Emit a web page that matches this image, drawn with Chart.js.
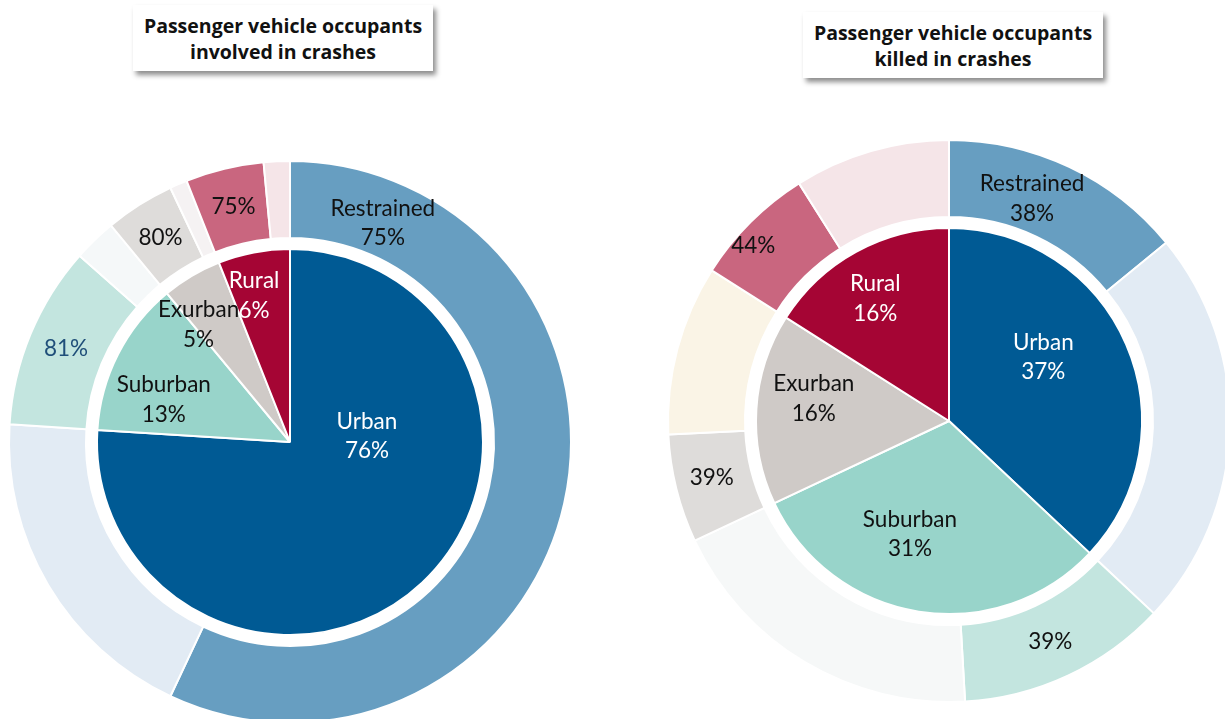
<!DOCTYPE html>
<html>
<head>
<meta charset="utf-8">
<script src="https://cdn.jsdelivr.net/npm/chart.js@4.4.1/dist/chart.umd.min.js"></script>
<style>
  html,body{margin:0;padding:0;background:#fff;overflow:hidden;width:1225px;height:719px;}
  body{position:relative;font-family:Lato,"Open Sans",sans-serif;}
  canvas{position:absolute;}
  .titulo{position:absolute;width:300px;height:66px;background:#fff;box-shadow:3px 4px 5px rgba(0,0,0,0.45);
          font-family:"Open Sans",sans-serif;font-weight:bold;font-size:19.5px;line-height:26px;text-align:center;color:#111;box-sizing:border-box;padding-top:8px;}
</style>
</head>
<body>
<div class="titulo" style="left:133px;top:5px;">Passenger vehicle occupants<br>involved in crashes</div>
<div class="titulo" style="left:803px;top:12px;">Passenger vehicle occupants<br>killed in crashes</div>
<canvas id="myChart" width="600" height="600" style="left:-10px;top:142px;"></canvas>
<canvas id="myChart2" width="600" height="600" style="left:649px;top:121px;"></canvas>
<script>
// datos
const categorias        = ['Urban','Suburban','Exurban','Rural']
const involvedShare     = [76,13,5,6]      // % de ocupantes en choques
const involvedRestrained= [75,81,80,75]    // % con cinturon dentro de cada zona
const killedShare       = [37,31,16,16]    // % de ocupantes fallecidos
const killedRestrained  = [38,39,39,44]

// colores
const colorInner      = ['#005A94','#98D4CA','#CFCAC7','#A50534']
const colorRestrained = ['#679EC1','#C3E5DF','#DEDCDA','#C9667F']
const colorUnrest1    = ['#E2EBF4','#F5F8F9','#F5F2F3','#F5E5E8']
const colorUnrest2    = ['#E2EBF4','#F6F8F8','#FAF4E6','#F5E5E8']
const textInner       = ['#fff','#111','#111','#fff']

// posicion de etiquetas: t = fraccion a lo largo del arco, r = fraccion del grosor
const posInner1 = [{t:0.313,r:0.40},{t:0.32,r:0.69},{t:0.09,r:0.77},{t:0.36,r:0.78}]
const posOuter1 = [{t:0.112,r:0.44},{t:0.5,r:0.5},{t:0.5,r:0.49},{t:0.5,r:0.49}]
const posInner2 = [{t:0.42,r:0.59},{t:0.59,r:0.62},{t:0.60,r:0.71},{t:0.46,r:0.74}]
const posOuter2 = [{t:0.405,r:0.43},{t:0.51,r:0.51},{t:0.52,r:0.52},{t:0.37,r:0.76}]
const colorOuterText1 = ['#111','#1F4E79','#111','#111']

function anillo(share,rest){//restrained / unrestrained por zona
    let valores=[]
    share.forEach((s,i)=>{
        valores.push(s*rest[i]/100)
        valores.push(s*(100-rest[i])/100)
    })
    return valores
}
function intercalar(a,b){
    let c=[]
    a.forEach((x,i)=>{c.push(x);c.push(b[i])})
    return c
}

// plugin para dibujar las etiquetas dentro de cada arco
const etiquetas = {
    id:'etiquetas',
    afterDatasetsDraw(chart){
        const ctx=chart.ctx
        chart.data.datasets.forEach((ds,d)=>{
            if(!ds.etiquetas) return
            const meta=chart.getDatasetMeta(d)
            ds.etiquetas.forEach(et=>{
                const arc=meta.data[et.index]
                const p=arc.getProps(['x','y','startAngle','endAngle','innerRadius','outerRadius'],true)
                const ang=p.startAngle+et.t*(p.endAngle-p.startAngle)
                const rad=p.innerRadius+et.r*(p.outerRadius-p.innerRadius)
                const x=p.x+Math.cos(ang)*rad
                const y=p.y+Math.sin(ang)*rad
                ctx.save()
                ctx.font='22.5px Lato'
                ctx.fillStyle=et.color
                ctx.textAlign='center'
                ctx.textBaseline='middle'
                const n=et.lineas.length
                et.lineas.forEach((l,k)=>ctx.fillText(l,x,y+(k-(n-1)/2)*29.5))
                ctx.restore()
            })
        })
    }
}

function crearGrafico(canvas,share,rest,colUnrest,posIn,posOut,colOutText){
    const etiqIn=categorias.map((c,i)=>({index:i,lineas:[c,share[i]+'%'],color:textInner[i],t:posIn[i].t,r:posIn[i].r}))
    const etiqOut=categorias.map((c,i)=>({index:i*2,lineas:i==0?['Restrained',rest[i]+'%']:[rest[i]+'%'],color:colOutText[i],t:posOut[i].t,r:posOut[i].r}))
    return new Chart(canvas,{
        type:'pie',
        data:{
            labels:intercalar(categorias,categorias),
            datasets:[
                {data:anillo(share,rest),backgroundColor:intercalar(colorRestrained,colUnrest),borderColor:'#fff',borderWidth:2,weight:77,etiquetas:etiqOut},
                {data:[1],backgroundColor:'rgba(0,0,0,0)',borderWidth:0,weight:11},
                {data:share,backgroundColor:colorInner,borderColor:'#fff',borderWidth:2,weight:193,etiquetas:etiqIn}
            ]
        },
        options:{
            responsive:false,
            animation:false,
            events:[],
            radius:281,
            layout:{padding:0},
            plugins:{legend:{display:false},tooltip:{enabled:false}}
        },
        plugins:[etiquetas]
    })
}

const myChart  = crearGrafico(document.getElementById('myChart'),involvedShare,involvedRestrained,colorUnrest1,posInner1,posOuter1,colorOuterText1)
const myChart2 = crearGrafico(document.getElementById('myChart2'),killedShare,killedRestrained,colorUnrest2,posInner2,posOuter2,['#111','#111','#111','#111'])
</script>
</body>
</html>
